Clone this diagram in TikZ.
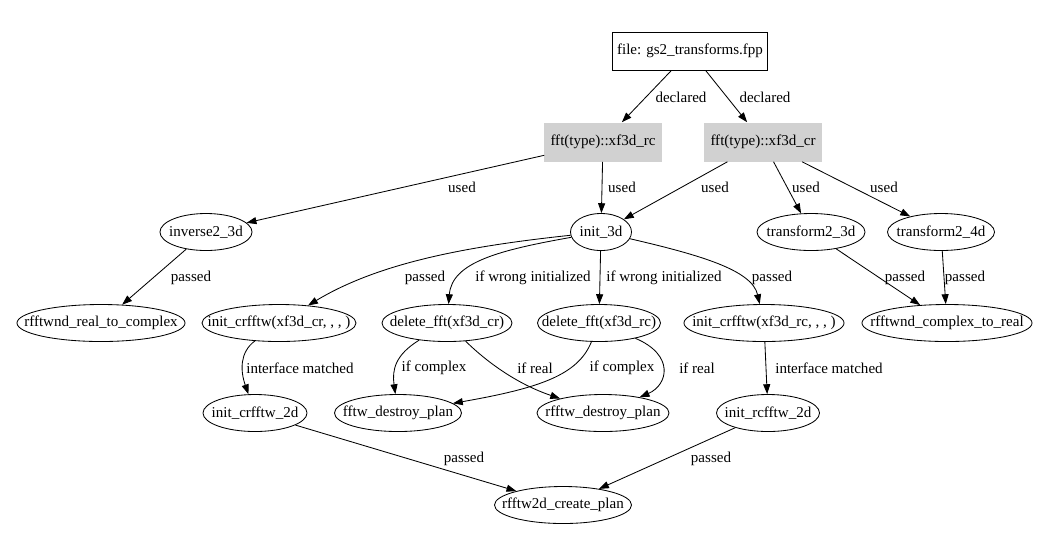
\documentclass[tikz,border=0pt]{standalone}
\usepackage{fontspec}
\setmainfont{Liberation Serif}
\usetikzlibrary{shapes.geometric,arrows.meta}

\begin{document}
\begin{tikzpicture}[
    x=0.025cm, y=-0.025cm,
    every node/.style={font=\fontsize{10.7}{12}\selectfont},
    filebox/.style={rectangle, draw, line width=0.6pt, minimum width=3.85cm, minimum height=0.95cm},
    typebox/.style={rectangle, fill=black!18, minimum width=2.925cm, minimum height=0.975cm},
    fn/.style={ellipse, draw, line width=0.6pt, inner xsep=-5em, inner ysep=-1em, minimum height=0.925cm, minimum width=#1},
    link/.style={line width=0.6pt, -{Triangle[length=7pt,width=5pt]}},
    lbl/.style={inner sep=1pt}
]
\useasboundingbox[fill=white] (0,0) rectangle (1050,542);

% File
\node[filebox] (file) at (690,51) {file: gs2\_transforms.fpp};

% Declared types
\node[typebox] (fftrc) at (603,142) {fft(type)::xf3d\_rc};
\node[typebox] (fftcr) at (763,142) {fft(type)::xf3d\_cr};

% Routines using the types
\node[fn=2.3cm] (inv) at (206,232) {inverse2\_3d};
\node[fn=1.525cm] (init) at (601,232) {init\_3d};
\node[fn=2.7cm] (tr3) at (811,232) {transform2\_3d};
\node[fn=2.675cm] (tr4) at (941,232) {transform2\_4d};

% Called routines
\node[fn=4.2cm] (r2c) at (101,323) {rfftwnd\_real\_to\_complex};
\node[fn=3.85cm] (icr) at (279,323) {init\_crfftw(xf3d\_cr, , , )};
\node[fn=3.25cm] (dcr) at (447,323) {delete\_fft(xf3d\_cr)};
\node[fn=3.075cm] (drc) at (599,323) {delete\_fft(xf3d\_rc)};
\node[fn=4cm] (irc) at (764,323) {init\_crfftw(xf3d\_rc, , , )};
\node[fn=4.25cm] (c2r) at (947,323) {rfftwnd\_complex\_to\_real};

% FFTW layer
\node[fn=2.6cm] (icr2) at (255,413) {init\_crfftw\_2d};
\node[fn=3.175cm] (fdp) at (398,413) {fftw\_destroy\_plan};
\node[fn=3.3cm] (rdp) at (603,413) {rfftw\_destroy\_plan};
\node[fn=2.575cm] (irc2) at (768,413) {init\_rcfftw\_2d};

% Plan
\node[fn=3.425cm] (plan) at (563,505) {rfftw2d\_create\_plan};

% Declarations
\draw[link] (file) -- (fftrc) node[lbl] at (681,97) {declared};
\draw[link] (file) -- (fftcr) node[lbl] at (765,97) {declared};

% Uses
\draw[link] (fftrc) -- (inv) node[lbl] at (462,187) {used};
\draw[link] (fftrc) -- (init) node[lbl] at (622,187) {used};
\draw[link] (fftcr) -- (init) node[lbl] at (715,187) {used};
\draw[link] (fftcr) -- (tr3) node[lbl] at (806,187) {used};
\draw[link] (fftcr) -- (tr4) node[lbl] at (884,187) {used};

% Second level
\draw[link] (inv) -- (r2c) node[lbl] at (191,278) {passed};
\draw[link] (init) .. controls (470,246) and (380,262) .. (icr) node[lbl] at (425,278) {passed};
\draw[link] (init) .. controls (500,250) and (452,262) .. (dcr) node[lbl] at (533,278) {if wrong initialized};
\draw[link] (init) -- (drc) node[lbl] at (664,278) {if wrong initialized};
\draw[link] (init) .. controls (700,255) and (752,270) .. (irc) node[lbl] at (772,278) {passed};
\draw[link] (tr3) -- (c2r) node[lbl] at (905,278) {passed};
\draw[link] (tr4) -- (c2r) node[lbl] at (965,278) {passed};

% Third level
\draw[link] (icr) .. controls (240,352) and (240,370) .. (icr2) node[lbl] at (300,368) {interface matched};
\draw[link] (dcr) .. controls (395,355) and (392,370) .. (fdp) node[lbl] at (434,368) {if complex};
\draw[link] (dcr) .. controls (490,365) and (520,385) .. (rdp) node[lbl] at (535,368) {if real};
\draw[link] (drc) .. controls (578,375) and (540,388) .. (fdp) node[lbl] at (622,368) {if complex};
\draw[link] (drc) .. controls (675,355) and (668,385) .. (rdp) node[lbl] at (697,368) {if real};
\draw[link] (irc) -- (irc2) node[lbl] at (829,368) {interface matched};

% Plans
\draw[link] (icr2) -- (plan) node[lbl] at (464,459) {passed};
\draw[link] (irc2) -- (plan) node[lbl] at (711,459) {passed};

\end{tikzpicture}
\end{document}
